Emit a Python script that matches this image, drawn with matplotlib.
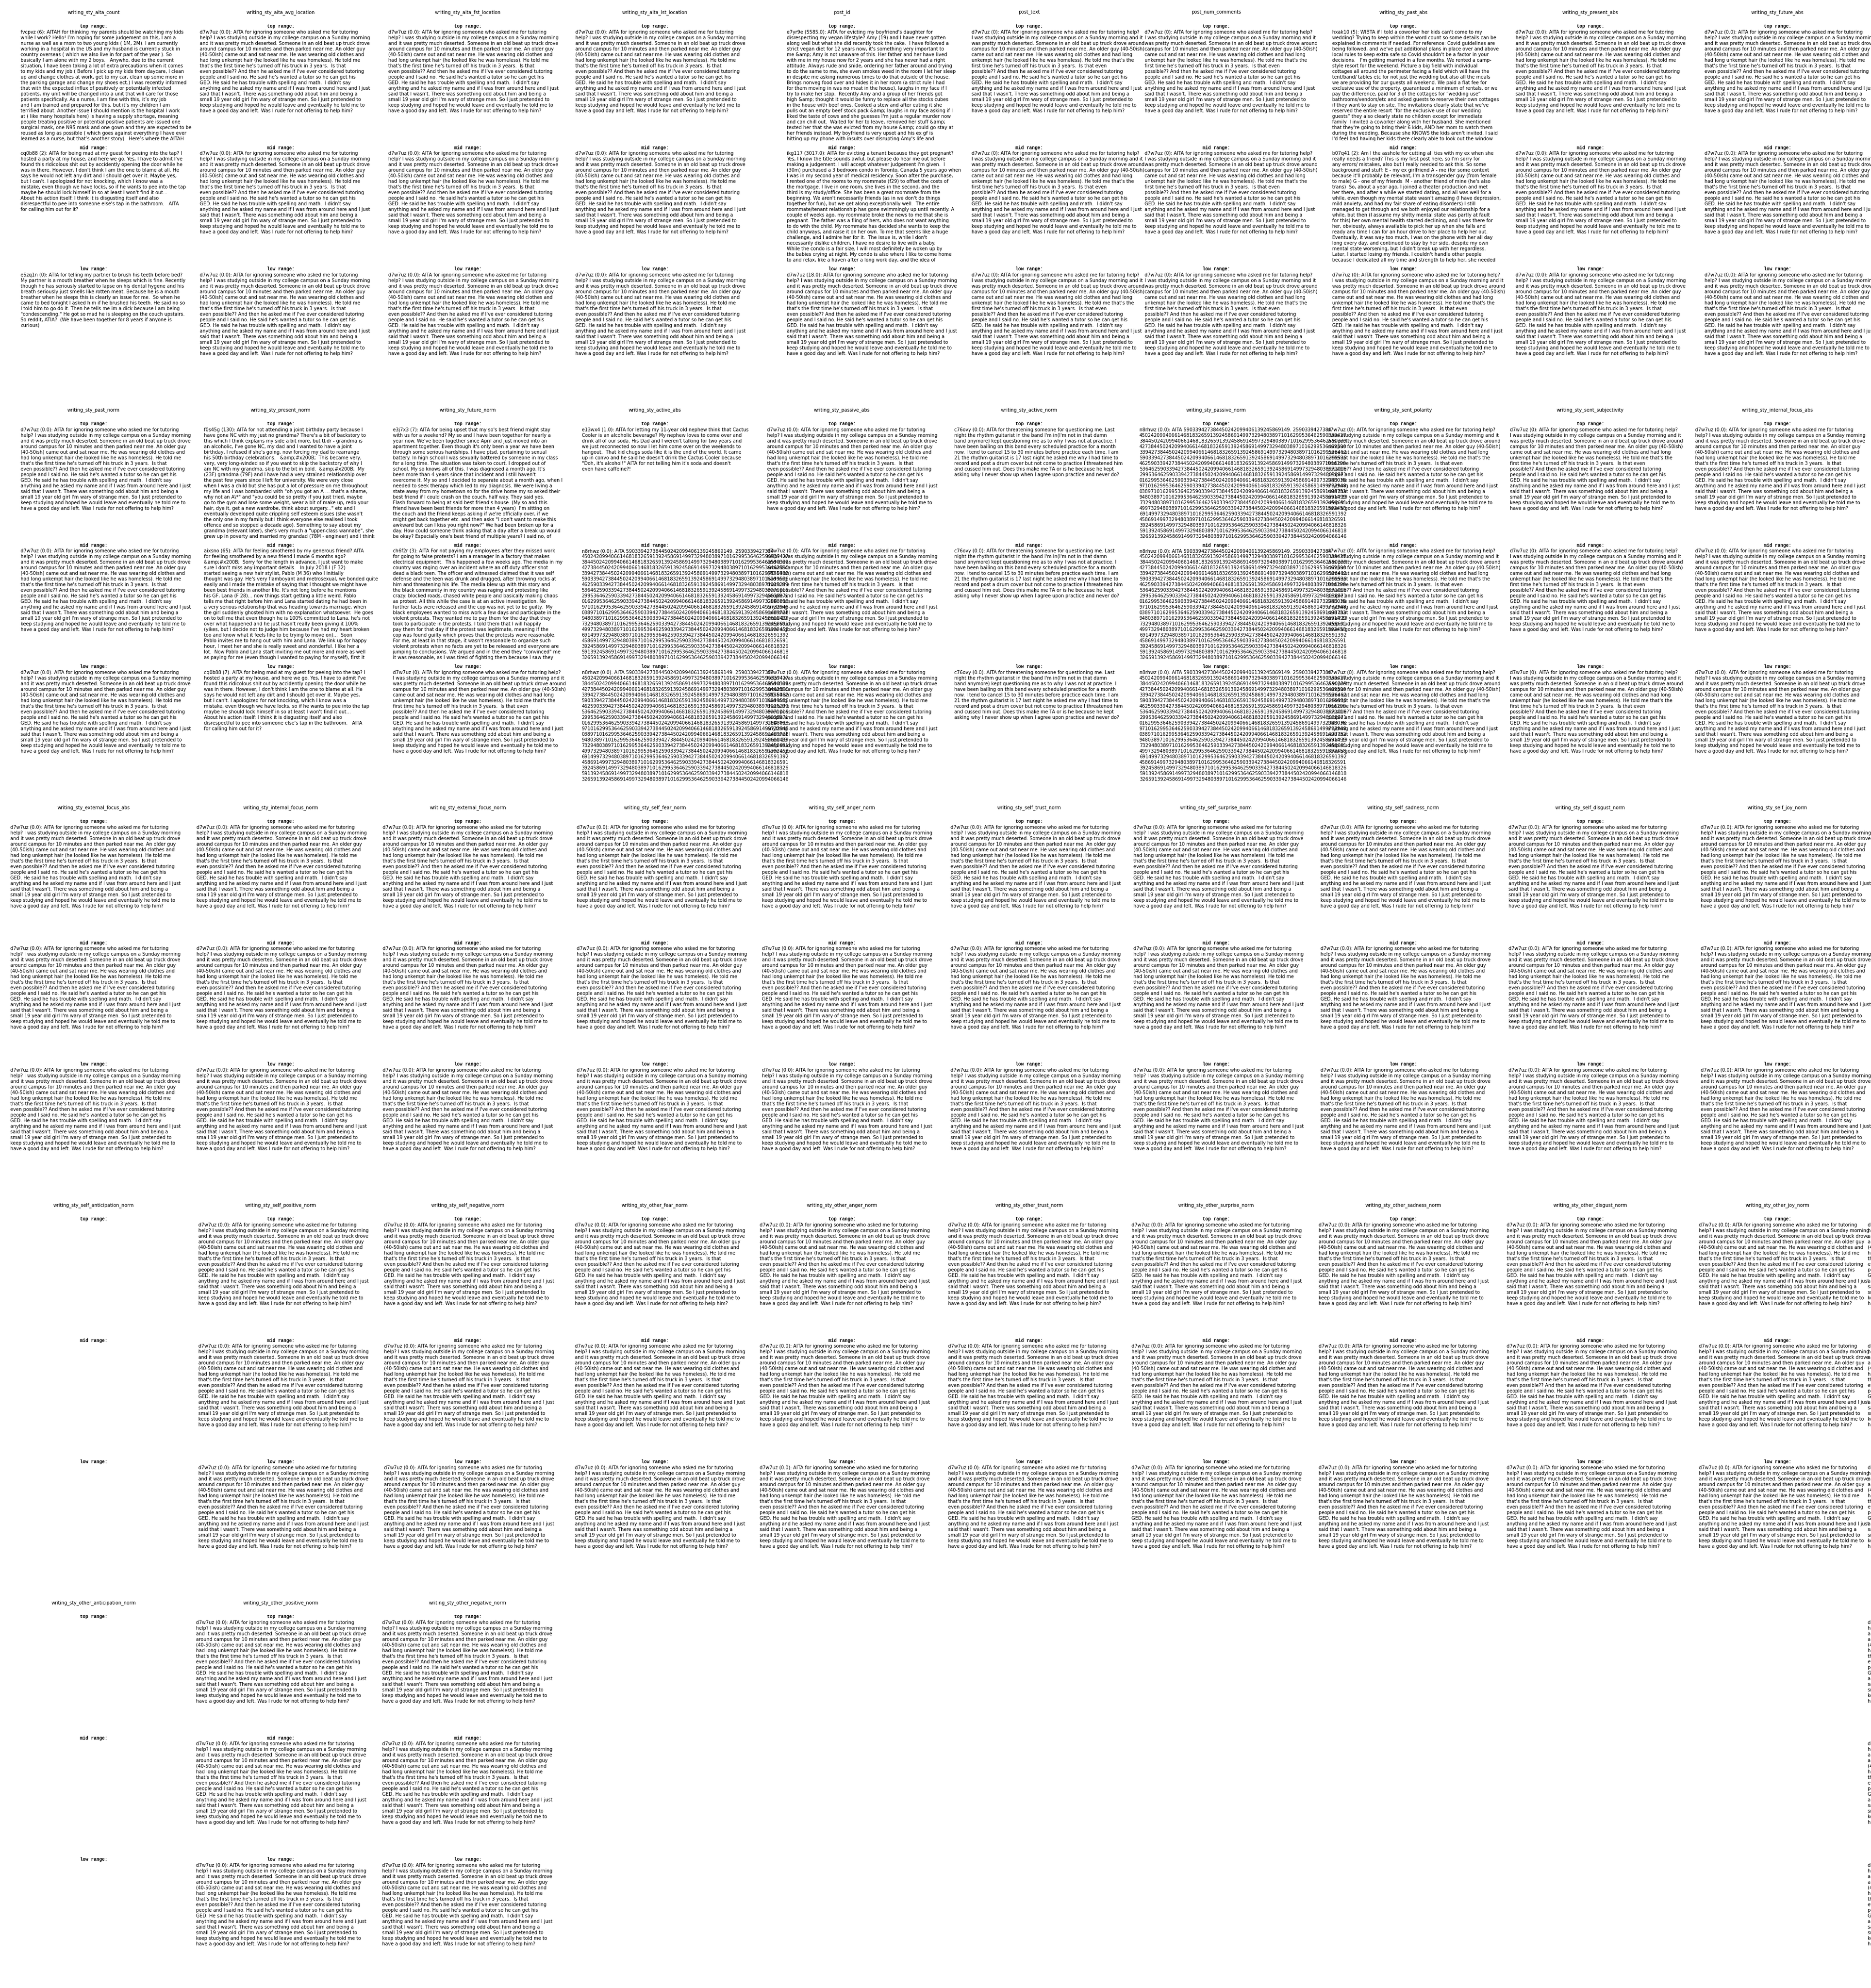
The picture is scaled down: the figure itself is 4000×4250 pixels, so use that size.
'''
Panel de textos de ejemplo por columna de estilo de escritura:
para cada columna se muestran los posts de rango alto, medio y bajo.
'''

import textwrap
import matplotlib
matplotlib.use('Agg')
from matplotlib import pyplot as plt

# ---------------------------------------------------------------- datos

columnas = [
  'writing_sty_aita_count', 'writing_sty_aita_avg_location', 'writing_sty_aita_fst_location',
  'writing_sty_aita_lst_location', 'post_id', 'post_text', 'post_num_comments',
  'writing_sty_past_abs', 'writing_sty_present_abs', 'writing_sty_future_abs',
  'writing_sty_past_norm', 'writing_sty_present_norm', 'writing_sty_future_norm',
  'writing_sty_active_abs', 'writing_sty_passive_abs', 'writing_sty_active_norm',
  'writing_sty_passive_norm', 'writing_sty_sent_polarity', 'writing_sty_sent_subjectivity',
  'writing_sty_internal_focus_abs',
  'writing_sty_external_focus_abs', 'writing_sty_internal_focus_norm', 'writing_sty_external_focus_norm',
  'writing_sty_self_fear_norm', 'writing_sty_self_anger_norm', 'writing_sty_self_trust_norm',
  'writing_sty_self_surprise_norm', 'writing_sty_self_sadness_norm', 'writing_sty_self_disgust_norm',
  'writing_sty_self_joy_norm',
  'writing_sty_self_anticipation_norm', 'writing_sty_self_positive_norm', 'writing_sty_self_negative_norm',
  'writing_sty_other_fear_norm', 'writing_sty_other_anger_norm', 'writing_sty_other_trust_norm',
  'writing_sty_other_surprise_norm', 'writing_sty_other_sadness_norm', 'writing_sty_other_disgust_norm',
  'writing_sty_other_joy_norm',
  'writing_sty_other_anticipation_norm', 'writing_sty_other_positive_norm', 'writing_sty_other_negative_norm',
]

D = 'd7w7uz'
N = 'n8rhwz'

top_ids = ['fvcpvz', D, D, D, 'e7yr9e', D, D, 'hxak10', D, D,
           D, 'f0s45g', 'e3j7x3', 'e13wx4', D, 'c76ovy', N, D, D, D] + [D]*23
top_vals = [6, 0.0, 0.0, 0.0, 5585.0, 0, 0, 5, 0.0, 0.0,
            0.0, 130, 7, 1.0, 0.0, 0.0, 0.0, 0, 0, 0.0] + [0.0]*23

mid_ids = ['cq0b88', D, D, D, 'ikg117', D, D, 'b07q41', D, D,
           D, 'aixsno', 'ch6f2r', N, D, 'c76ovy', N, D, D, D] + [D]*23
mid_vals = [2, 0.0, 0.0, 0.0, 3017.0, 0, 0, 2, 0.0, 0.0,
            0.0, 65, 3, 0.0, 0.0, 0.0, 0.0, 0, 0, 0.0] + [0.0]*23

low_ids = ['e5zq1n', D, D, D, D, D, D, D, D, D,
           D, 'cq0b88', D, N, D, 'c76ovy', N, D, D, D] + [D]*23
low_vals = [0, 0.0, 0.0, 0.0, 18.0, 0, 0, 0, 0.0, 0.0,
            0.0, 7, 0, 0.0, 0.0, 0.0, 0.0, 0, 0, 0.0] + [0.0]*23

# columnas cuyo texto quedó corrido hasta el borde derecho de la imagen
corridas = ['writing_sty_self_anticipation_norm', 'writing_sty_other_anticipation_norm']

T_D7W7UZ = ("AITA for ignoring someone who asked me for tutoring help? I was studying outside in my "
  "college campus on a Sunday morning and it was pretty much deserted. Someone in an old beat up truck "
  "drove around campus for 10 minutes and then parked near me. An older guy (40-50ish) came out and sat "
  "near me. He was wearing old clothes and had long unkempt hair (he looked like he was homeless). He told "
  "me that's the first time he's turned off his truck in 3 years.  Is that even possible?? And then he asked "
  "me if I've ever considered tutoring people and I said no. He said he's wanted a tutor so he can get his "
  "GED. He said he has trouble with spelling and math.  I didn't say anything and he asked my name and if "
  "I was from around here and I just said that I wasn't. There was something odd about him and being a "
  "small 19 year old girl I'm wary of strange men. So I just pretended to keep studying and hoped he would "
  "leave and eventually he told me to have a good day and left. Was I rude for not offering to help him?")

T_FVCPVZ = ("AITAH for thinking my parents should be watching my kids while I work? Hello! I’m hoping for "
  "some judgement on this, I am a nurse as well as a mom to two young kids ( 1M, 2M). I am currently working "
  "in a hospital in the US and my husband is currently stuck in country overseas ( which we also live in for "
  "part of the year ). So basically I am alone with my 2 boys.   Anywho, due to the current situation, I have "
  "been taking a lot of extra precautions when it comes to my kids and my job ( Before I pick up my kids from "
  "daycare, I clean up and change clothes at work, get to my car, clean up some more in the parking garage "
  "and change my shoes ect.) I was recently informed that with the expected influx of positively or "
  "potentially infected patients, my unit will be changed into a unit that will care for those patients "
  "specifically. As a nurse, I am fine with this, it’s my job and I am trained and prepared for this, but "
  "it’s my children I am terrified about. Another issue I should mention is the hospital I work at ( like "
  "many hospitals here) is having a supply shortage, meaning people treating positive or potential positive "
  "patients are issued one surgical mask, one N95 mask and one gown and they are expected to be reused as "
  "long as possible ( which goes against everything I have ever learned as a nurse, but that’s another "
  "story)   Here’s where the AITAH")

T_CQ0B88 = ("AITA for being mad at my guest for peeing into the tap? I hosted a party at my house, and here "
  "we go. Yes, I have to admit I've found this ridicolous shit out by accidently opening the door while he "
  "was in there. However, I don't think I am the one to blame at all. He says he would not left any dirt and "
  "I should get over it. Maybe yes, but I can't. I apologized for not knocking, which I know was a mistake, "
  "even though we have locks, so if he wants to pee into the tap maybe he should lock himself in so at least "
  "I won't find it out... About his action itself: I think it is disgusting itself and also disrespectful to "
  "pee into someone else's tap in the bathroom.   AITA for calling him out for it?")

T_E5ZQ1N = ("ATIA for telling my partner to brush his teeth before bed? My partner is a mouth breather when "
  "he sleeps which is fine. Recently though he has seriously started to lapse on his dental hygene and his "
  "breath seriously just smells like rotten meat. Because he is a mouth breather when he sleeps this is "
  "clearly an issue for me.  So when he came to bed tonight I asked him if he brushed his teeth. He said no "
  "so I told him to go do it. Then he tells me im a dick because I am being \"condescending.\" He got so mad "
  "he is sleeping on the couch upstairs. So reddit, ATIA?  (We have been together for 8 years if anyone is "
  "curious)")

T_E7YR9E = ("AITA for evicting my boyfriend's daughter for disrespecting my vegan lifestyle? Amy (19) and I "
  "have never gotten along well but what she did recently took the cake.  I have followed a strict vegan "
  "diet for 12 years now, it's something very important to me &amp; Amy is not unaware of this. Her father "
  "and her have lived with me in my house now for 2 years and she has never had a right attitude. Always "
  "rude and snide, ordering her father around and trying to do the same to me, she even smokes weed in the "
  "room I let her sleep in despite me asking numerous times to do that outside of the house. Brings nonveg "
  "food over and hides it in her room (a strict rule I had for them moving in was no meat in the house), "
  "laughs in my face if I try to make her stop.  Recently Amy and a group of her friends got high &amp; "
  "thought it would be funny to replace all the stocks cubes in the house with beef ones. Cooked a stew and "
  "after eating it she pulls out an empty beef stock pack &amp; laughs in my face asking if I liked the "
  "taste of cows and she guesses I'm just a regular murder now and can chill out.  Waited for her to leave, "
  "removed her stuff &amp; texted her that she was evicted from my house &amp; could go stay at her friends "
  "instead. My boyfriend is very upset and his ex gf is hitting up my phone with insults over disrupting "
  "Amy's life and")

T_IKG117 = ("AITA for evicting a tenant because they got pregnant? Yes, I know the title sounds awful, but "
  "please do hear me out before making a judgement. I will accept whatever judgement I'm given.  I (30m) "
  "purchased a 3 bedroom condo in Toronto, Canada 5 years ago when I was in my second year of medical "
  "residency. Soon after the purchase, I rented one of the rooms to my roommate (f29) to offset the costs of "
  "the mortgage. I live in one room, she lives in the second, and the third is my study/office. She has been "
  "a great roommate from the beginning. We aren't necessarily friends (as in we don't do things together for "
  "fun), but we get along exceptionally well.  The entire roommate/tenant relationship has gone swimmingly "
  "up until recently. A couple of weeks ago, my roommate broke the news to me that she is pregnant. The "
  "father was a fling of hers, who does not want anything to do with the child. My roommate has decided she "
  "wants to keep the child anyways, and raise it on her own. To me that seems like a huge challenge, and I "
  "admire her for it.  The issue is, while I don't necessarily dislike children, I have no desire to live "
  "with a baby. While the condo is a fair size, I will most definitely be woken up by the babies crying at "
  "night. My condo is also where I like to come home to and relax, like a haven after a long work day, and "
  "the idea of")

T_HXAK10 = ("WIBTA if I told a coworker her kids can't come to my wedding? Trying to keep within the word "
  "count so some details can be explained in comments if needed. For reference: Covid guidelines are being "
  "followed, and we've put additional plans in place over and above local rules to keep extra safe so Covid "
  "shouldn't be a factor in your decisions.   I'm getting married in a few months. We rented a camp-style "
  "resort for the weekend. Picture a big field with individual cottages all around the perimeter facing a "
  "field which will have the tent/band/ tables etc for not just the wedding but also all the meals we are "
  "providing for our guests all weekend. We paid a flat fee for exclusive use of the property, guaranteed a "
  "minimum of rentals, or we pay the difference, paid for 3 of the cottages for “wedding use” "
  "bathrooms/vendors/etc and asked guests to reserve their own cottages if they want to stay on site. The "
  "invitations clearly state that we've reserved the entire resort “for the exclusive use of our wedding "
  "guests” they also clearly state no children except for immediate family  I invited a coworker along "
  "with her husband. She mentioned that they're going to bring their 6 kids, AND her mom to watch them "
  "during the wedding. Because she KNOWS the kids aren't invited. I said I'd feel bad having her kids there "
  "clearly able to look out the window")

T_B07Q41 = ("Am I the asshole for cutting all ties with my ex when she really needs a friend? This is my "
  "first post here, so I'm sorry for any errors/ mistakes, also but I really needed to ask this. So some "
  "background and stuff: E - my ex girlfriend A - me (for some context because it'll probably be relevant, "
  "I'm a transgender guy (from female to male) G - one of my friends  M - another friend of mine (he's also "
  "trans)  So, about a year ago, I joined a theater production and met her there, and after a while we "
  "started dating, and all was well for a while, even though my mental state wasn't amazing (I have "
  "depression, mild anxiety, and had my fair share of eating disorders) I still managed to get through and "
  "we both enjoyed our relationship for a while, but then (I assume my shitty mental state was partly at "
  "fault for this) her own mental health started declining, and I was there for her, obviously, always "
  "available to pick her up when she falls and ready any time I can for an hour drive to her place to help "
  "her out. Eventually, it was way too much, I was on the phone with her all day long every day, and "
  "continued to stay by her side, despite my own mental state worsening, but I didn't break up with her "
  "regardless. Later, I started losing my friends, I couldn't handle other people because I dedicated all "
  "my time and strength to help her, she needed")

T_F0S45G = ("AITA for not attending a joint birthday party because I have gone NC with my just no grandma? "
  "There's a bit of backstory to this which I think explains my side a bit more, but tl;dr - grandma is an "
  "alcoholic, I've gone NC, my dad and I wanted to have a joint birthday, I refused if she's going, now "
  "forcing my dad to rearrange his 50th birthday celebrations.   &amp;#x200B;  This became very, very, very "
  "long-winded so if you want to skip the backstory of why I am NC with my grandma, skip to the bit in "
  "bold.  &amp;#x200B;  My (23F) grandma (79F) and I have had a very strained relationship over the past few "
  "years since I left for university. We were very close when I was a child but she has put a lot of "
  "pressure on me throughout my life and I was bombarded with \"oh you got an A ... that's a shame, why not "
  "an A\\*\" and \"you could be so pretty if you just tried, maybe go to the gym and lose some weight, wear a "
  "bit of make up, redo your hair, dye it, get a new wardrobe, think about surgery...\" etc and I eventually "
  "developed quite crippling self esteem issues (she wasn't the only one in my family but I think everyone "
  "else realised I took offence and so stopped a decade ago). Something to say about my grandma (relevant "
  "later), she's very much a \"upper-class wannabe\", she grew up in poverty and married my grandad (78M - "
  "engineer) and I think")

T_AIXSNO = ("AITA for feeling smothered by my generous friend? AITA for feeling smothered by a new friend I "
  "made 6 months ago?   &amp;#x200B;  Sorry for the length in advance, I just want to make sure I don't miss "
  "any important details.   In July 2018 I (F 32) started seeing a new hair stylist, Pablo (M 36) who I "
  "initially thought was gay. He's very flamboyant and metrosexual, we bonded quite easily and I made the "
  "mistake of saying that I thought we might have been best friends in another life. It's not long before "
  "he mentions his GF, Lana (F 28)... now things start getting a little weird. Pablo tells me that right "
  "before him and Lana started dating he had been in a very serious relationship that was heading towards "
  "marriage, when the girl suddenly ghosted him with no explanation whatsoever.  He goes on to tell me that "
  "even though he is 100% committed to Lana, he's not over what happened and he just hasn't really been "
  "giving it 100% (yikes, but I decide not to judge him because I've had my heart broken too and know what "
  "it feels like to be trying to move on)...  Soon Pablo invites me to hang out with him and Lana. We link "
  "up for happy hour, I meet her and she is really sweet and wonderful. I like her a lot.  Now Pablo and "
  "Lana start inviting me out more and more as well as paying for me (even though I wanted to paying for "
  "myself), first it")

T_E3J7X3 = ("AITA for being upset that my so's best friend might stay with us for a weekend? My so and I "
  "have been together for nearly a year now. We've been together since April and just moved into an "
  "apartment together. Even though it's only been a year we have been through some serious hardships. I "
  "have ptsd, pertaining to sexual battery. In high school I was sexually battered by someone in my class "
  "for a long time. The situation was taken to court. I dropped out of school. My so knows all of this. I "
  "was diagnosed a month ago. It's been more than 4 years since that incident and I still haven't overcome "
  "it. My so and I decided to separate about a month ago, when I needed to seek therapy which led to my "
  "diagnosis. We were living a state away from my hometown so for the drive home my so asked their best "
  "friend if I could crash on the couch, half way. They said yes. Flash forward to being at said best "
  "friend's house. (My so and this friend have been best friends for more than 4 years)  I'm sitting on the "
  "couch and the friend keeps asking if we're officially over, if we might get back together etc. and then "
  "asks \"I don't want to make this awkward but can I kiss you right now?\" We had been broken up for a day. "
  "How could someone think asking that a day after a break up would be okay? Especially one's best friend "
  "of multiple years? I said no, of")

T_CH6F2R = ("AITA For not paying my employees after they missed work for going to false protests? I am a "
  "manager in a factory that makes electrical equipment.  This happened a few weeks ago. The media in my "
  "country was raging over an incident where an off duty officer shot dead a black teen. The officer and "
  "witnessed claimed that it was self defense and the teen was drunk and drugged, after throwing rocks at "
  "him and threatening his life. The media blew up with this story and the black community in my country "
  "was raging and protesting like crazy: blocked roads, chased white people and basically making chaos as "
  "protest. All this while the case is at an active investigation. No further facts were released and the "
  "cop was not yet to be guilty.  My black employees wanted to miss work a few days and participate in the "
  "violent protests. They wanted me to pay them for the day that they took to participate in the protests. "
  "I told them that I will happily pay them for that day if the protest was legitimate, meaning if the cop "
  "was found guilty which proves that the protests were reasonable. For me, at least in that stage, it "
  "wasn't reasonable to organize such violent protests when no facts are yet to be released and everyone "
  "are jumping to conclusions. We argued and in the end they \"convinced\" me it was reasonable, as I was "
  "tired of fighting them because I saw they")

T_E13WX4 = ("AITA for letting my 11-year old nephew think that Cactus Cooler is an alcoholic beverage? My "
  "nephew loves to come over and drink all of our soda. His Dad and I weren't talking for two years and we "
  "just reconnected so now I let him come over on the weekends to hangout.  That kid chugs soda like it is "
  "the end of the world. It came up in convo and he said he doesn't drink the Cactus Cooler because \"Doh, "
  "it's alcohol!\" AITA for not telling him it's soda and doesn't even have caffeine?!")

T_C76OVY = ("AITA for threatening someone for questioning me. Last night the rhythm guitarist in the band "
  "I'm in(I'm not in that damn band anymore) kept questioning me as to why I was not at practice. I have "
  "been bailing on this band every scheduled practice for a month now. I tend to cancel 15 to 30 minutes "
  "before practice each time. I am 21 the rhythm guitarist is 17 last night he asked me why I had time to "
  "record and post a drum cover but not come to practice I threatened him and cussed him out. Does this "
  "make me TA or is he because he kept asking why I never show up when I agree upon practice and never do?")

# el post n8rhwz es una cifra que se repite tal cual en el texto
CIFRA_N8RHWZ = '5903394273844502420994066146818326591392458691499732948038971016299536462'
T_N8RHWZ = 'AITA 590339427384450242099406139245869149. 2' + CIFRA_N8RHWZ * 20

textos = {
  'd7w7uz': T_D7W7UZ, 'fvcpvz': T_FVCPVZ, 'cq0b88': T_CQ0B88, 'e5zq1n': T_E5ZQ1N,
  'e7yr9e': T_E7YR9E, 'ikg117': T_IKG117, 'hxak10': T_HXAK10, 'b07q41': T_B07Q41,
  'f0s45g': T_F0S45G, 'aixsno': T_AIXSNO, 'e3j7x3': T_E3J7X3, 'ch6f2r': T_CH6F2R,
  'e13wx4': T_E13WX4, 'c76ovy': T_C76OVY, 'n8rhwz': T_N8RHWZ,
}

# ---------------------------------------------------------------- dibujo

ANCHO_COL = 400      # px
ALTO_FILA = 850      # px
POR_FILA = 10
PASO_RANGO = 259.75  # px entre secciones top/mid/low
rangos = ['top range:', 'mid range:', 'low range:']

def cuerpo(pid, val):
  '''Arma el texto "id (valor): post" cortado a 70 caracteres y 20 líneas.'''
  lineas = textwrap.wrap(f'{pid} ({val}): {textos[pid]}', width=70)
  return '\n'.join(lineas[:20])

fig = plt.figure(figsize=(40, 42.5), dpi=100)
ax = fig.add_axes([0, 0, 1, 1])
ax.set_xlim(0, ANCHO_COL*POR_FILA)
ax.set_ylim(ALTO_FILA*5, 0)
ax.axis('off')

estilo_cuerpo = dict(fontsize=7.2, linespacing=1.25, va='top', ha='left', color='black')

for i, col in enumerate(columnas):
  fila, c = divmod(i, POR_FILA)
  xc = c*ANCHO_COL + ANCHO_COL/2
  y0 = fila*ALTO_FILA
  titulo = ax.text(xc, y0 + 26.5, col, ha='center', va='center', fontsize=7.2)

  datos = [(top_ids[i], top_vals[i]), (mid_ids[i], mid_vals[i]), (low_ids[i], low_vals[i])]
  for k, (pid, val) in enumerate(datos):
    yk = y0 + 56 + k*PASO_RANGO
    ax.text(xc, yk, rangos[k], ha='center', va='center', fontsize=7,
            family='Liberation Mono', weight='bold')
    txt = cuerpo(pid, val)
    if col in corridas:
      ax.text(ANCHO_COL*POR_FILA - 7, yk + 7.5, txt, **estilo_cuerpo)
    else:
      # el texto arranca 100 px a la izquierda del título de la columna
      ax.annotate(txt, xy=(0, yk + 7.5), xycoords=(titulo, 'data'),
                  xytext=(-100, 0), textcoords='offset pixels', **estilo_cuerpo)

fig.savefig('out.png', dpi=100, facecolor='white')
